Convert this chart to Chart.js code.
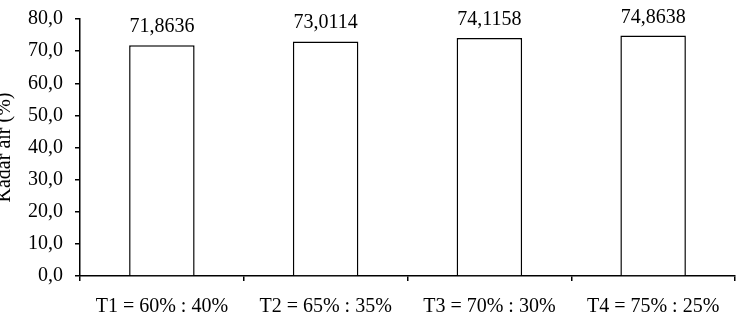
<!DOCTYPE html>
<html>
<head>
<meta charset="utf-8">
<script src="https://cdn.jsdelivr.net/npm/chart.js@4"></script>
<style>
    body { margin: 0; background: #fff; }
    #wrap { position: relative; width: 743px; height: 318px; overflow: hidden; }
    #box { position: absolute; left: -7px; top: 0; width: 750px; height: 318px; }
</style>
</head>
<body>
<div id="wrap"><div id="box"><canvas id="myChart"></canvas></div></div>
<script>
const categories = ['T1 = 60% : 40%', 'T2 = 65% : 35%', 'T3 = 70% : 30%', 'T4 = 75% : 25%'];
const kadarAir = [71.8636, 73.0114, 74.1158, 74.8638];
const yTicks = [0, 10, 20, 30, 40, 50, 60, 70, 80];

const serif = 'Liberation Serif';
const comma = (v, d) => v.toFixed(d).replace('.', ',');

// labels above the bars
const valueLabels = {
    id: 'valueLabels',
    afterDatasetsDraw(chart) {
        const ctx = chart.ctx;
        const meta = chart.getDatasetMeta(0);
        ctx.save();
        ctx.font = '20px "' + serif + '"';
        ctx.fillStyle = '#000';
        ctx.textAlign = 'center';
        ctx.textBaseline = 'alphabetic';
        meta.data.forEach((bar, i) => {
            ctx.fillText(comma(kadarAir[i], 4), bar.x, bar.y - 13);
        });
        ctx.restore();
    }
};

const ctx = document.getElementById('myChart').getContext('2d');
const myChart = new Chart(ctx, {
    type: 'bar',
    data: {
        labels: categories,
        datasets: [{
            data: kadarAir,
            backgroundColor: '#fff',
            borderColor: '#000',
            borderWidth: 1.5,
            barPercentage: 0.4,
            categoryPercentage: 1
        }]
    },
    options: {
        responsive: true,
        maintainAspectRatio: false,
        animation: false,
        layout: { padding: { top: 19, right: 8, left: 0, bottom: 0 } },
        plugins: {
            legend: { display: false },
            tooltip: { enabled: false }
        },
        scales: {
            x: {
                grid: {
                    offset: true,
                    drawOnChartArea: false,
                    tickLength: 5,
                    color: '#000',
                    lineWidth: 1.5
                },
                border: { color: '#000', width: 1.5 },
                ticks: {
                    color: '#000',
                    padding: 14,
                    maxRotation: 0,
                    font: { family: serif, size: 20 }
                },
                afterFit: (scale) => { scale.height = 42; }
            },
            y: {
                min: 0,
                max: 80,
                afterBuildTicks: (scale) => { scale.ticks = yTicks.map(v => ({ value: v })); },
                grid: {
                    drawOnChartArea: false,
                    tickLength: 5,
                    color: '#000',
                    lineWidth: 1.5
                },
                border: { color: '#000', width: 1.5 },
                ticks: {
                    color: '#000',
                    padding: 12,
                    font: { family: serif, size: 20 },
                    callback: (v) => comma(v, 1)
                },
                title: {
                    display: true,
                    text: 'Kadar air (%)',
                    color: '#000',
                    padding: 0,
                    font: { family: serif, size: 20 }
                },
                afterFit: (scale) => {
                    scale.width = 87;
                    scale.paddingTop = 0;
                    scale.paddingBottom = 0;
                }
            }
        }
    },
    plugins: [valueLabels]
});
</script>
</body>
</html>
